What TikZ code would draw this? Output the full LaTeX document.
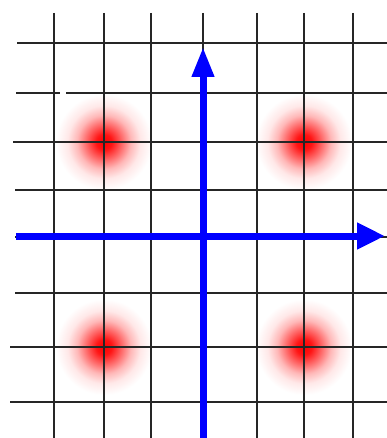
\documentclass[tikz,border=0pt]{standalone}
\usetikzlibrary{arrows.meta}
\pgfdeclareradialshading{glow}{\pgfpoint{0bp}{0bp}}{color(0bp)=(red); color(4bp)=(red!92); color(9bp)=(red!60); color(14bp)=(red!28); color(19bp)=(red!9); color(25bp)=(white); color(50bp)=(white)}
\tikzset{
  gridline/.style={line width=2pt, black!85},
  axis/.style={line width=7pt, blue},
  glowspot/.style={shading=glow}
}
\begin{document}
\begin{tikzpicture}[x=1pt,y=-1pt]
\useasboundingbox[fill=white] (0,0) rectangle (387,438);
% glows
\foreach \gx/\gy in {104/142, 304/142, 104/347, 304/347}
  \shade[glowspot] (\gx,\gy) circle (48);
% vertical grid lines
\foreach \vx in {54,104,151,203,257,304,353}
  \draw[gridline] (\vx,13) -- (\vx,438);
% horizontal grid lines
\draw[gridline] (17,43) -- (387,43);
\draw[gridline] (16,93) -- (60,93);
\draw[gridline] (66,93) -- (387,93);
\draw[gridline] (13,142) -- (387,142);
\draw[gridline] (15,190) -- (387,190);
\draw[gridline] (15,237) -- (387,237);
\draw[gridline] (15,293) -- (387,293);
\draw[gridline] (10,347) -- (387,347);
\draw[gridline] (10,402) -- (387,402);
% axes
\coordinate (yb) at (203,438);
\coordinate (yt) at (203,47);
\coordinate (xl) at (16,236);
\coordinate (xr) at (385,236);
\draw[axis, -{Triangle[length=30pt,width=21pt]}] (yb) -- (yt);
\draw[axis, -{Triangle[length=28pt,width=25pt]}] (xl) -- (xr);
\end{tikzpicture}
\end{document}
